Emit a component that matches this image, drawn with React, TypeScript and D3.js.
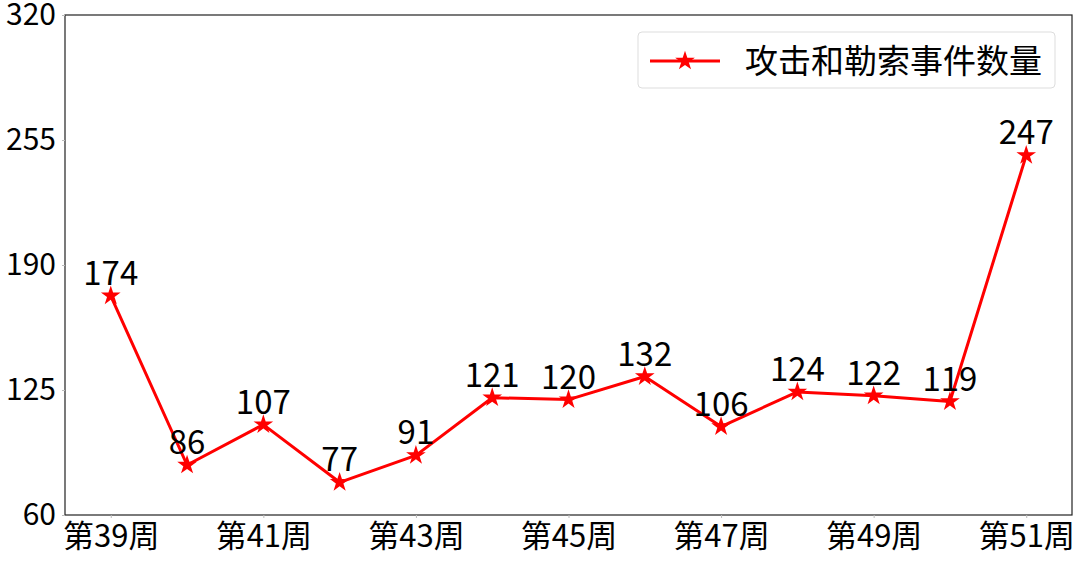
import React, { useEffect, useRef } from 'react';
import * as d3 from 'd3';

const weeks = ['第39周', '第40周', '第41周', '第42周', '第43周', '第44周', '第45周', '第46周', '第47周', '第48周', '第49周', '第50周', '第51周'];
const counts = [174, 86, 107, 77, 91, 121, 120, 132, 106, 124, 122, 119, 247];
const yTicks = [60, 125, 190, 255, 320];
const seriesName = '攻击和勒索事件数量';

const FONT = '"Noto Sans CJK SC", "DejaVu Sans", sans-serif';

const App: React.FC = () => {
  const svgRef = useRef<SVGSVGElement>(null);

  useEffect(() => {
    if (!svgRef.current) return;
    const W = 1080, H = 562;
    const margin = { top: 15, right: 8, bottom: 47, left: 65 };
    const width = W - margin.left - margin.right;
    const height = H - margin.top - margin.bottom;

    const svg = d3.select(svgRef.current);
    svg.selectAll('*').remove();

    const g = svg.append('g')
      .attr('transform', `translate(${margin.left},${margin.top})`);

    const x = d3.scalePoint<string>()
      .domain(weeks)
      .range([0, width])
      .padding(0.6);

    const y = d3.scaleLinear()
      .domain([60, 320])
      .range([height, 0]);

    // Frame
    g.append('rect')
      .attr('width', width)
      .attr('height', height)
      .attr('fill', 'none')
      .attr('stroke', '#222')
      .attr('stroke-width', 1.2);

    // Axes
    const xAxis = g.append('g')
      .attr('transform', `translate(0,${height})`)
      .call(d3.axisBottom(x)
        .tickValues(weeks.filter((_, i) => i % 2 === 0))
        .tickSize(3)
        .tickPadding(7));
    xAxis.select('.domain').remove();
    xAxis.selectAll('line').attr('stroke', '#bbb');
    xAxis.selectAll('text')
      .style('font-size', '31px')
      .style('font-family', FONT)
      .attr('fill', '#000');

    const yAxis = g.append('g')
      .call(d3.axisLeft(y).tickValues(yTicks).tickSize(3).tickPadding(6));
    yAxis.select('.domain').remove();
    yAxis.selectAll('line').attr('stroke', '#bbb');
    yAxis.selectAll('text')
      .style('font-size', '30px')
      .style('font-family', FONT)
      .attr('fill', '#000');

    const data = weeks.map((w, i) => ({ week: w, value: counts[i] }));

    const line = d3.line<{ week: string; value: number }>()
      .x(d => x(d.week)!)
      .y(d => y(d.value));

    g.append('path')
      .datum(data)
      .attr('fill', 'none')
      .attr('stroke', '#ff0000')
      .attr('stroke-width', 3)
      .attr('stroke-linejoin', 'round')
      .attr('d', line);

    const star = d3.symbol().type(d3.symbolStar).size(120);

    g.selectAll('.pt')
      .data(data)
      .enter().append('path')
      .attr('class', 'pt')
      .attr('d', star)
      .attr('fill', '#ff0000')
      .attr('transform', d => `translate(${x(d.week)},${y(d.value)})`);

    // Value labels
    g.selectAll('.lbl')
      .data(data)
      .enter().append('text')
      .attr('class', 'lbl')
      .attr('x', d => x(d.week)!)
      .attr('y', d => y(d.value) - 11)
      .attr('text-anchor', 'middle')
      .style('font-size', '33px')
      .style('font-family', FONT)
      .attr('fill', '#000')
      .text(d => d.value);

    // Legend
    const legend = svg.append('g').attr('transform', 'translate(638,32)');
    legend.append('rect')
      .attr('width', 417)
      .attr('height', 56)
      .attr('rx', 4)
      .attr('fill', '#fff')
      .attr('stroke', '#ddd');
    legend.append('line')
      .attr('x1', 12).attr('x2', 82)
      .attr('y1', 29).attr('y2', 29)
      .attr('stroke', '#ff0000')
      .attr('stroke-width', 3);
    legend.append('path')
      .attr('d', star)
      .attr('fill', '#ff0000')
      .attr('transform', 'translate(47,29)');
    legend.append('text')
      .attr('x', 107)
      .attr('y', 41)
      .style('font-size', '33px')
      .style('font-family', FONT)
      .attr('fill', '#000')
      .text(seriesName);
  }, []);

  return (
    <svg ref={svgRef} width={1080} height={562}
      style={{ position: 'absolute', left: 0, top: 0, background: '#fff' }} />
  );
};

export default App;
